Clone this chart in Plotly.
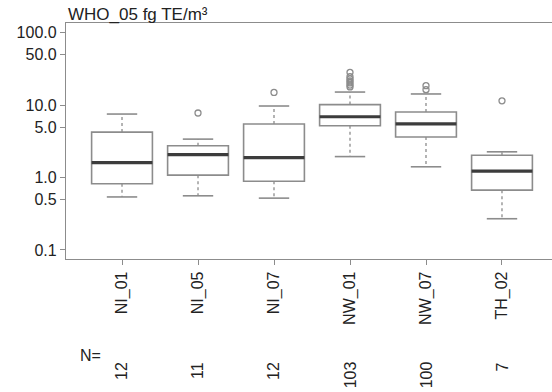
import plotly.graph_objects as go

# ---- data ----
sites = ["NI_01", "NI_05", "NI_07", "NW_01", "NW_07", "TH_02"]
n_obs = [12, 11, 12, 103, 100, 7]
lower_whisker = [0.54, 0.56, 0.52, 1.95, 1.41, 0.27]
q1 = [0.82, 1.08, 0.89, 5.2, 3.63, 0.67]
median = [1.61, 2.08, 1.89, 6.93, 5.54, 1.23]
q3 = [4.25, 2.75, 5.49, 10.2, 8.05, 2.04]
upper_whisker = [7.55, 3.40, 9.75, 15.2, 14.3, 2.27]
outliers = [
    [],
    [7.8],
    [15.0],
    [28.5, 24.8, 23.1, 21.6, 20.3, 19.0, 17.9],
    [18.6, 16.4],
    [11.5],
]
ytick_vals = [0.1, 0.5, 1, 5, 10, 50, 100]
ytick_text = ["0.1", "0.5", "1.0", "5.0", "10.0", "50.0", "100.0"]
title_text = "WHO_05 fg TE/m³"

# ---- styling ----
BOX_W = 0.8
CAP_W = 0.4
GRAY = "#8c8c8c"
DARK = "#3c3c3c"
TXT = "#222222"
FONT = "Liberation Sans, Arial, sans-serif"
NFONT = 16
DIGIT_W = NFONT * 0.556

xs = list(range(len(sites)))

fig = go.Figure()

fig.add_trace(go.Box(
    x=xs, q1=q1, median=median, q3=q3,
    lowerfence=q1, upperfence=q3,
    width=BOX_W, fillcolor="white",
    line=dict(color=GRAY, width=1.6),
    boxpoints=False, showlegend=False, hoverinfo="skip",
))

# whiskers (dotted)
wx, wy = [], []
for i in xs:
    wx += [i, i, None, i, i, None]
    wy += [q3[i], upper_whisker[i], None, q1[i], lower_whisker[i], None]
fig.add_trace(go.Scatter(x=wx, y=wy, mode="lines",
                         line=dict(color=GRAY, width=1.3, dash="dot"),
                         showlegend=False, hoverinfo="skip"))

# caps
cx, cy = [], []
for i in xs:
    cx += [i - CAP_W / 2, i + CAP_W / 2, None, i - CAP_W / 2, i + CAP_W / 2, None]
    cy += [upper_whisker[i], upper_whisker[i], None, lower_whisker[i], lower_whisker[i], None]
fig.add_trace(go.Scatter(x=cx, y=cy, mode="lines",
                         line=dict(color=GRAY, width=1.6),
                         showlegend=False, hoverinfo="skip"))

# medians (thick)
mx, my = [], []
for i in xs:
    mx += [i - BOX_W / 2, i + BOX_W / 2, None]
    my += [median[i], median[i], None]
fig.add_trace(go.Scatter(x=mx, y=my, mode="lines",
                         line=dict(color=DARK, width=3.2),
                         showlegend=False, hoverinfo="skip"))

# outliers
ox, oy = [], []
for i in xs:
    for v in outliers[i]:
        ox.append(i)
        oy.append(v)
fig.add_trace(go.Scatter(x=ox, y=oy, mode="markers",
                         marker=dict(symbol="circle-open", size=6,
                                     color=GRAY, line=dict(width=1.3)),
                         showlegend=False, hoverinfo="skip"))

# N row (rotated, top-aligned like R's las=2)
for i in xs:
    label = str(n_obs[i])
    fig.add_annotation(x=i, y=-0.4364, xref="x", yref="paper",
                       yanchor="middle", yshift=-len(label) * DIGIT_W / 2,
                       text=label, textangle=-90, showarrow=False,
                       font=dict(size=NFONT, color=TXT, family=FONT))
fig.add_annotation(x=0.024, y=-0.455, xref="paper", yref="paper",
                   text="N=", showarrow=False,
                   font=dict(size=NFONT, color=TXT, family=FONT))

# title
fig.add_annotation(x=0, y=1.0, xref="paper", yref="paper",
                   xanchor="left", yanchor="bottom", yshift=-3,
                   text=title_text, showarrow=False,
                   font=dict(size=17, color=TXT, family=FONT))

fig.update_layout(
    width=552, height=392,
    margin=dict(l=66, r=0, t=23, b=133),
    paper_bgcolor="white", plot_bgcolor="white",
    font=dict(family=FONT, color=TXT),
    xaxis=dict(range=[-0.737, 5.658], tickmode="array", tickvals=xs,
               ticktext=sites, tickangle=-90, showgrid=False, zeroline=False,
               showline=True, mirror=True, linecolor=GRAY, linewidth=1.3,
               ticks="outside", ticklen=5, tickcolor=GRAY,
               tickfont=dict(size=16, color=TXT, family=FONT)),
    yaxis=dict(type="log", range=[-1.125, 2.136], tickmode="array",
               tickvals=ytick_vals, ticktext=ytick_text, showgrid=False,
               zeroline=False, showline=True, linecolor=GRAY, linewidth=1.3,
               ticks="outside", ticklen=5, tickcolor=GRAY,
               tickfont=dict(size=16, color=TXT, family=FONT)),
)

fig.write_html("out.html")
